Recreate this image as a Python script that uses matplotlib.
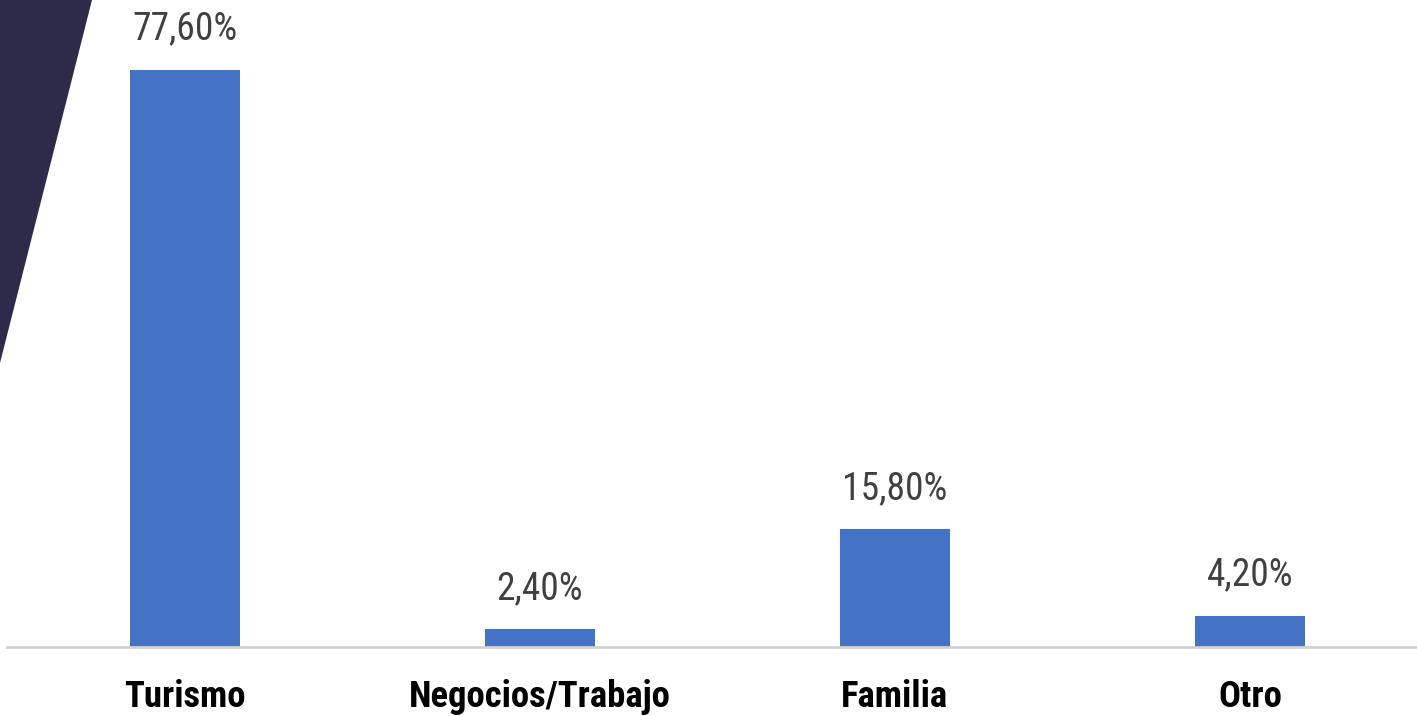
import matplotlib
matplotlib.use("Agg")
import matplotlib.pyplot as plt
from matplotlib import font_manager
from matplotlib.patches import Polygon

categories = ["Turismo", "Negocios/Trabajo", "Familia", "Otro"]
values = [77.6, 2.4, 15.8, 4.2]
value_labels = ["77,60%", "2,40%", "15,80%", "4,20%"]

ttfs = font_manager.fontManager.ttflist
cands = [f for f in ttfs if ("narrow" in f.name.lower() or "condensed" in f.name.lower()
                             or str(f.stretch).lower() in ("condensed", "semi-condensed", "ultra-condensed", "extra-condensed")
                             or (isinstance(f.stretch, int) and f.stretch < 500))]

def pick(bold):
    pref = ["Liberation Sans Narrow", "Roboto Condensed", "Open Sans Condensed", "DejaVu Sans"]
    for p in pref:
        for f in cands:
            if f.name == p or f.name.startswith(p):
                w = f.weight if isinstance(f.weight, int) else (700 if "bold" in str(f.weight).lower() else 400)
                if (w >= 600) == bold and f.style == "normal":
                    return font_manager.FontProperties(fname=f.fname)
    return None

reg = pick(False)
bld = pick(True)

W, H = 1417, 716
fig = plt.figure(figsize=(W / 100, H / 100), dpi=100)
fig.patch.set_facecolor("white")

fig.patches.append(Polygon([(0, 1), (92 / W, 1), (0, 1 - 363 / H)], closed=True,
                           transform=fig.transFigure, facecolor="#2D2A4A",
                           edgecolor="none", zorder=0))

ax = fig.add_axes([7 / W, 1 - 647 / H, (W - 7) / W, 647 / H])
ax.set_facecolor("none")
x = list(range(len(categories)))
bars = ax.bar(x, values, width=0.31, color="#4472C4", zorder=2)
ax.set_xlim(-0.5, 3.47)
ax.set_ylim(0, 87.0)

for b, lab in zip(bars, value_labels):
    t = ax.annotate(lab, (b.get_x() + b.get_width() / 2, b.get_height()),
                    xytext=(0, 16), textcoords="offset points", ha="center", va="bottom",
                    color="#404040")
    if reg is not None:
        t.set_fontproperties(reg)
    t.set_fontsize(27)

ax.set_xticks(x)
ax.set_xticklabels(categories, color="black")
for t in ax.get_xticklabels():
    if bld is not None:
        t.set_fontproperties(bld)
    else:
        t.set_fontweight("bold")
    t.set_fontsize(26.5)
ax.tick_params(axis="x", length=0, pad=23)
ax.set_yticks([])
for s in ["left", "right", "top"]:
    ax.spines[s].set_visible(False)
ax.spines["bottom"].set_color("#D0D0D0")
ax.spines["bottom"].set_linewidth(2)

fig.savefig("out.png", dpi=100)
